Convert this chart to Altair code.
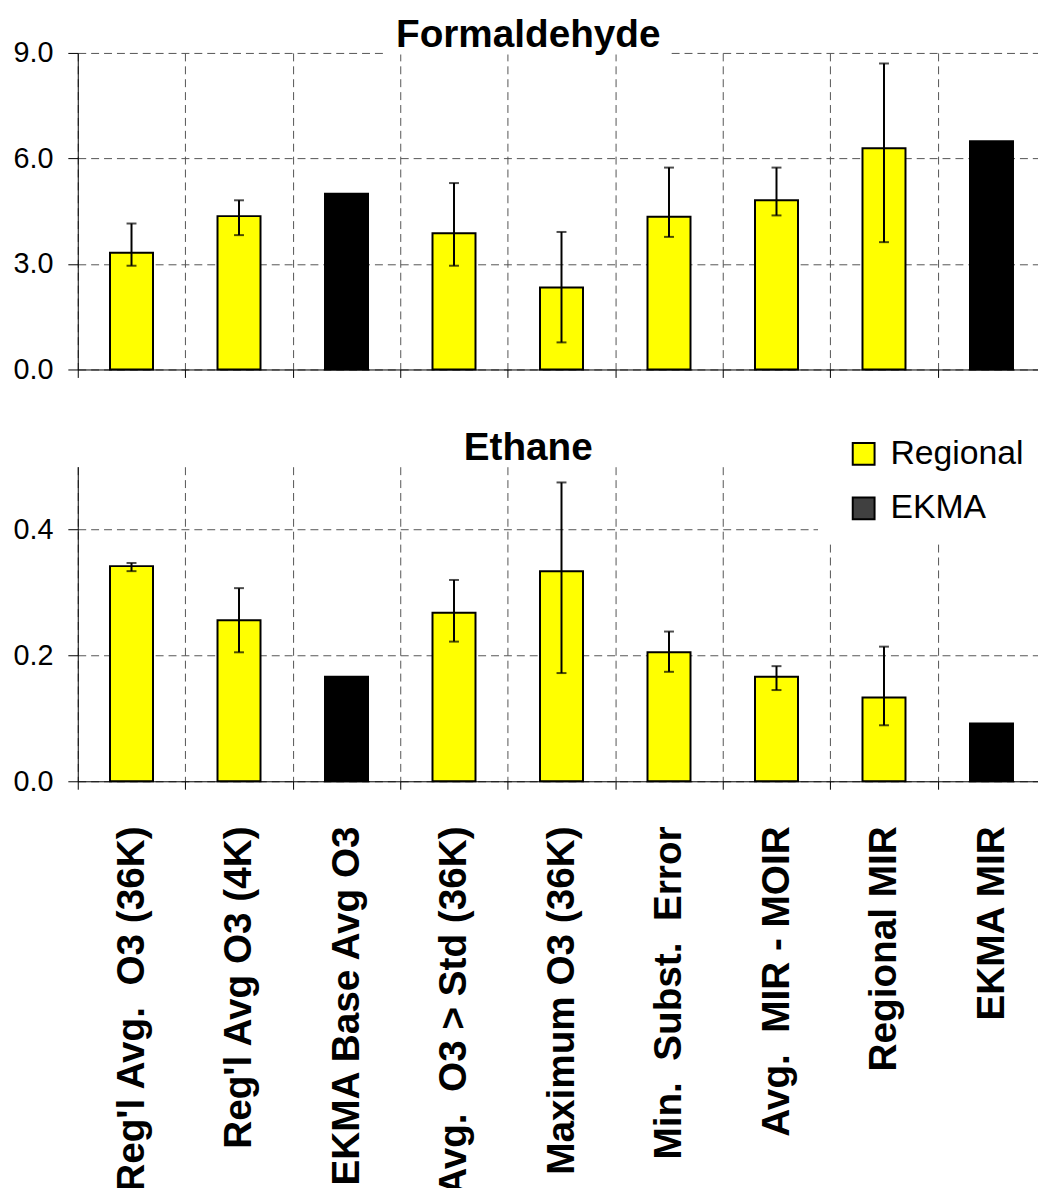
import altair as alt
import pandas as pd

# ---------------- data ----------------
categories = [
    "Reg'l Avg.\u00a0 O3 (36K)",
    "Reg'l Avg O3 (4K)",
    "EKMA Base Avg O3",
    "Avg.\u00a0 O3 > Std (36K)",
    "Maximum O3 (36K)",
    "Min.\u00a0 Subst.\u00a0 Error",
    "Avg.\u00a0 MIR - MOIR",
    "Regional MIR",
    "EKMA MIR",
]
types = ["Regional", "Regional", "EKMA", "Regional", "Regional",
         "Regional", "Regional", "Regional", "EKMA"]

form_vals = [3.32, 4.36, 5.00, 3.87, 2.33, 4.34, 4.81, 6.29, 6.49]
form_hi = [4.15, 4.81, None, 5.30, 3.91, 5.74, 5.74, 8.70, None]
form_lo = [2.95, 3.82, None, 2.95, 0.77, 3.77, 4.38, 3.62, None]

eth_vals = [0.342, 0.256, 0.166, 0.268, 0.334, 0.205, 0.166, 0.133, 0.092]
eth_hi = [0.347, 0.307, None, 0.320, 0.475, 0.238, 0.183, 0.214, None]
eth_lo = [0.334, 0.205, None, 0.222, 0.172, 0.174, 0.145, 0.089, None]

form_ticks = [0, 3, 6, 9]
eth_ticks = [0, 0.2, 0.4]
legend_domain = ["Regional", "EKMA"]
bar_colors = ["#ffff00", "#000000"]
legend_colors = ["#ffff00", "#404040"]

FONT = "Liberation Sans"
PLOT_W = 975
TOP_H, GAP, BOT_H = 319, 98, 317


def panel(vals, hi, lo, ymax, ticks, height, title_text, title_y,
          show_labels, legend, cover_title):
    bars_df = pd.DataFrame({"category": categories, "type": types, "value": vals})
    err_df = pd.DataFrame({"category": categories, "hi": hi, "lo": lo}).dropna()

    xaxis = alt.Axis(title=None, labels=show_labels, tickBand="extent",
                     grid=True)
    x = alt.X("category:N", sort=categories,
              scale=alt.Scale(paddingInner=0, paddingOuter=0), axis=xaxis)
    yscale = alt.Scale(domain=[0, ymax], nice=False, zero=True)
    yaxis = alt.Axis(title=None, values=ticks, format=".1f", grid=True)

    bars = alt.Chart(bars_df).mark_bar(
        stroke="black", strokeWidth=2, width=alt.RelativeBandSize(0.4)
    ).encode(
        x=x,
        y=alt.Y("value:Q", scale=yscale, axis=yaxis),
        fill=alt.Fill("type:N",
                      scale=alt.Scale(domain=legend_domain, range=bar_colors),
                      legend=None),
    )
    rules = alt.Chart(err_df).mark_rule(color="black", strokeWidth=2).encode(
        x=x, y=alt.Y("lo:Q", scale=yscale, axis=yaxis), y2="hi:Q"
    )
    cap_hi = alt.Chart(err_df).mark_tick(color="black", thickness=2, size=10).encode(
        x=x, y=alt.Y("hi:Q", scale=yscale, axis=yaxis)
    )
    cap_lo = alt.Chart(err_df).mark_tick(color="black", thickness=2, size=10).encode(
        x=x, y=alt.Y("lo:Q", scale=yscale, axis=yaxis)
    )
    layers = [bars, rules, cap_hi, cap_lo]
    if legend is not None:
        # invisible copy of the bars that only carries the legend
        key = alt.Chart(bars_df).mark_bar(
            stroke="black", strokeWidth=2, opacity=0,
            width=alt.RelativeBandSize(0.4)
        ).encode(
            x=x,
            y=alt.Y("value:Q", scale=yscale, axis=yaxis),
            color=alt.Color("type:N",
                            scale=alt.Scale(domain=legend_domain, range=legend_colors),
                            legend=legend),
        )
        layers.insert(1, key)
    if cover_title:
        cover = alt.Chart(pd.DataFrame({"a": [0]})).mark_rect(color="white").encode(
            x=alt.value(309), x2=alt.value(598), y=alt.value(-2), y2=alt.value(1.5)
        )
        layers.append(cover)
    title = alt.Chart(pd.DataFrame({"t": [title_text]})).mark_text(
        font=FONT, fontSize=39, fontWeight="bold", align="center",
        baseline="alphabetic", color="black"
    ).encode(text="t:N", x=alt.value(454), y=alt.value(title_y))
    layers.append(title)
    return alt.layer(*layers).properties(width=PLOT_W, height=height)


top = panel(form_vals, form_hi, form_lo, 9, form_ticks, TOP_H, "Formaldehyde", -6,
            False, None, True)

eth_legend = alt.Legend(
    title=None, orient="none", legendX=746, legendY=-47,
    fillColor="white", padding=17, symbolOffset=12, symbolType="square",
    symbolSize=484, symbolStrokeColor="black", symbolStrokeWidth=2,
    symbolOpacity=1,
    labelFontSize=34, labelFont=FONT, labelColor="black", labelOffset=10,
    rowPadding=21, labelLimit=500,
)
bottom = panel(eth_vals, eth_hi, eth_lo, 0.5, eth_ticks, BOT_H, "Ethane", -6.4,
               True, eth_legend, False)

# Fixed canvas of about 1038 x 1180 px with the layout origin at (70.3, 40.7).
# With autosize "none" this concat gets a view width equal to the panel width
# and a view height of 0, so the padding alone sets the canvas height.
# The right end of the last band and the label tails are clipped, as in the original.
PAD_LEFT, PAD_TOP = 70.3, 40.7
CANVAS_W, CANVAS_H = 1038, 1180
pad_right = CANVAS_W - PAD_LEFT - PLOT_W
pad_bottom = CANVAS_H - PAD_TOP

chart = alt.vconcat(top, bottom, spacing=GAP, bounds="flush").resolve_scale(
    color="independent"
).properties(
    autosize=alt.AutoSizeParams(type="none"),
    padding={"left": PAD_LEFT, "top": PAD_TOP,
             "right": pad_right, "bottom": pad_bottom},
).configure_axis(
    domainColor="black", tickColor="black", labelColor="black", labelFont=FONT,
    gridColor="#555555", gridDash=[8, 5], gridWidth=1, domainWidth=1, tickWidth=1,
).configure_axisX(
    tickSize=8, labelFontSize=39, labelFontWeight="bold", labelAngle=270,
    labelAlign="right", labelBaseline="middle", labelPadding=37, labelLimit=1000,
).configure_axisY(
    tickSize=10, labelFontSize=29, labelPadding=15,
).configure_view(stroke=None)

chart.save("out.html", embed_options={"renderer": "svg", "actions": False})
